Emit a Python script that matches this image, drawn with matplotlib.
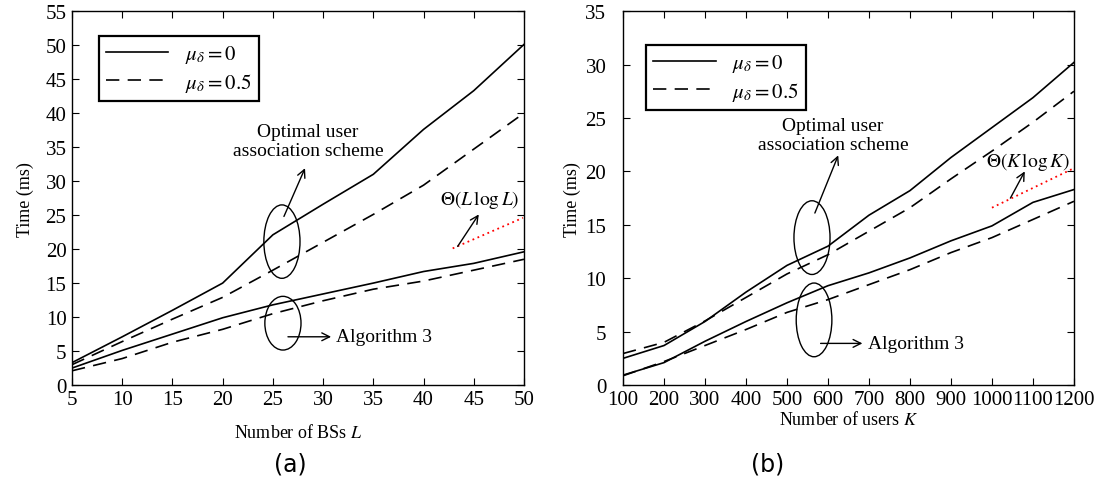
import matplotlib
matplotlib.use('Agg')
import matplotlib.pyplot as plt
from matplotlib.patches import Ellipse
import numpy as np

plt.rcParams['font.family'] = ['Liberation Serif', 'DejaVu Serif']
plt.rcParams['mathtext.fontset'] = 'stix'

# (a) running time versus number of BSs
bs_L = [5, 10, 15, 20, 25, 30, 35, 40, 45, 50]
opt_bs_mu0 = [3.3, 7.1, 11.0, 15.0, 22.1, 26.6, 31.0, 37.6, 43.3, 50.1]
opt_bs_mu05 = [3.0, 6.4, 9.7, 12.9, 16.9, 21.0, 25.1, 29.4, 34.7, 40.0]
alg3_bs_mu0 = [2.5, 5.1, 7.5, 9.9, 11.8, 13.4, 15.0, 16.7, 17.9, 19.6]
alg3_bs_mu05 = [2.1, 3.9, 6.3, 8.2, 10.5, 12.4, 14.1, 15.3, 16.9, 18.5]
theta_bs_x = [42.9, 49.9]
theta_bs_y = [20.1, 24.6]

# (b) running time versus number of users
users_K = [100, 200, 300, 400, 500, 600, 700, 800, 900, 1000, 1100, 1200]
opt_u_mu0 = [2.5, 3.7, 5.95, 8.7, 11.2, 13.0, 15.9, 18.2, 21.3, 24.1, 26.9, 30.2]
opt_u_mu05 = [2.95, 4.0, 6.0, 8.2, 10.4, 12.2, 14.4, 16.6, 19.3, 21.9, 24.6, 27.5]
alg3_u_mu0 = [0.93, 2.1, 4.1, 5.95, 7.7, 9.3, 10.5, 11.9, 13.5, 14.9, 17.1, 18.3]
alg3_u_mu05 = [0.87, 2.2, 3.7, 5.2, 6.8, 8.0, 9.4, 10.8, 12.4, 13.8, 15.5, 17.2]
theta_u_x = [1000, 1200]
theta_u_y = [16.6, 20.3]

legend_labels = [r'$\mu_\delta = 0$', r'$\mu_\delta = 0.5$']
dash = (0, (8, 5))
lw = 1.2

fig = plt.figure(figsize=(10.98, 4.85), dpi=100)
ax1 = fig.add_axes([0.0656, 0.204, 0.4116, 0.771])
ax2 = fig.add_axes([0.5674, 0.204, 0.4107, 0.771])


def style_axes(ax, ypad):
    ax.tick_params(direction='in', top=True, right=True, labelsize=15,
                   length=5, width=0.8)
    ax.tick_params(axis='y', pad=ypad)
    for s in ax.spines.values():
        s.set_linewidth(1.0)


def draw_curves(ax, x, opt0, opt05, alg0, alg05):
    h0, = ax.plot(x, opt0, color='black', lw=lw)
    h1, = ax.plot(x, opt05, color='black', lw=lw, linestyle=dash)
    ax.plot(x, alg0, color='black', lw=lw)
    ax.plot(x, alg05, color='black', lw=lw, linestyle=dash)
    return h0, h1


def arrow(ax, xy, xytext):
    ax.annotate('', xy=xy, xytext=xytext,
                arrowprops=dict(arrowstyle='->', color='black', lw=1.0,
                                mutation_scale=14, shrinkA=0, shrinkB=0))


# ---- panel (a)
h0, h1 = draw_curves(ax1, bs_L, opt_bs_mu0, opt_bs_mu05, alg3_bs_mu0, alg3_bs_mu05)
ax1.plot(theta_bs_x, theta_bs_y, color='red', lw=1.3, linestyle=(0, (1, 2)))
ax1.set_xlim(5, 50)
ax1.set_ylim(0, 55)
ax1.set_xticks(np.arange(5, 51, 5))
ax1.set_yticks(np.arange(0, 56, 5))
ax1.set_xlabel(r'Number of BSs $L$', fontsize=13, labelpad=10)
ax1.set_ylabel('Time (ms)', fontsize=13, labelpad=8)
style_axes(ax1, 4)

ax1.add_patch(Ellipse((25.9, 21.1), 3.6, 10.8, fill=False, lw=1.0, ec='black'))
ax1.add_patch(Ellipse((26.0, 9.1), 3.6, 7.9, fill=False, lw=1.0, ec='black'))
ax1.text(28.5, 35.9, 'Optimal user\nassociation scheme', fontsize=14,
         ha='center', va='center', linespacing=1.2)
arrow(ax1, (28.2, 31.9), (26.1, 24.8))
arrow(ax1, (30.8, 7.1), (26.5, 7.1))
ax1.text(31.3, 7.1, 'Algorithm 3', fontsize=14, ha='left', va='center')
arrow(ax1, (45.5, 25.1), (43.4, 20.4))
ax1.text(45.6, 27.4, r'$\Theta(L\,\log L)$', fontsize=14, ha='center', va='center')

leg = ax1.legend([h0, h1], legend_labels, loc='upper left',
                 bbox_to_anchor=(0.059, 0.933), borderaxespad=0, fontsize=15,
                 handlelength=3.0, fancybox=False, framealpha=1,
                 edgecolor='black', borderpad=0.35, labelspacing=0.25)
leg.get_frame().set_linewidth(1.6)

# ---- panel (b)
h0, h1 = draw_curves(ax2, users_K, opt_u_mu0, opt_u_mu05, alg3_u_mu0, alg3_u_mu05)
ax2.plot(theta_u_x, theta_u_y, color='red', lw=1.3, linestyle=(0, (1, 2)))
ax2.set_xlim(100, 1200)
ax2.set_ylim(0, 35)
ax2.set_xticks(np.arange(100, 1201, 100))
ax2.set_yticks(np.arange(0, 36, 5))
ax2.set_xlabel(r'Number of users $K$', fontsize=13, labelpad=1)
ax2.set_ylabel('Time (ms)', fontsize=13, labelpad=3)
style_axes(ax2, 12)

ax2.add_patch(Ellipse((561, 13.8), 88, 6.9, fill=False, lw=1.0, ec='black'))
ax2.add_patch(Ellipse((566, 6.1), 87, 6.9, fill=False, lw=1.0, ec='black'))
ax2.text(612, 23.4, 'Optimal user\nassociation scheme', fontsize=14,
         ha='center', va='center', linespacing=1.2)
arrow(ax2, (625, 21.5), (568, 16.1))
arrow(ax2, (684, 3.9), (582, 3.9))
ax2.text(697, 3.9, 'Algorithm 3', fontsize=14, ha='left', va='center')
arrow(ax2, (1080, 20.0), (1045, 17.5))
ax2.text(1088, 21.0, r'$\Theta(K\,\log K)$', fontsize=14, ha='center', va='center')

leg = ax2.legend([h0, h1], legend_labels, loc='upper left',
                 bbox_to_anchor=(0.051, 0.909), borderaxespad=0, fontsize=15,
                 handlelength=3.0, fancybox=False, framealpha=1,
                 edgecolor='black', borderpad=0.35, labelspacing=0.25)
leg.get_frame().set_linewidth(1.6)

fig.text(290 / 1098, 1 - 465 / 485, '(a)', fontsize=17, family='DejaVu Sans',
         ha='center', va='center')
fig.text(768 / 1098, 1 - 465 / 485, '(b)', fontsize=17, family='DejaVu Sans',
         ha='center', va='center')

fig.savefig('out.png', dpi=100)
